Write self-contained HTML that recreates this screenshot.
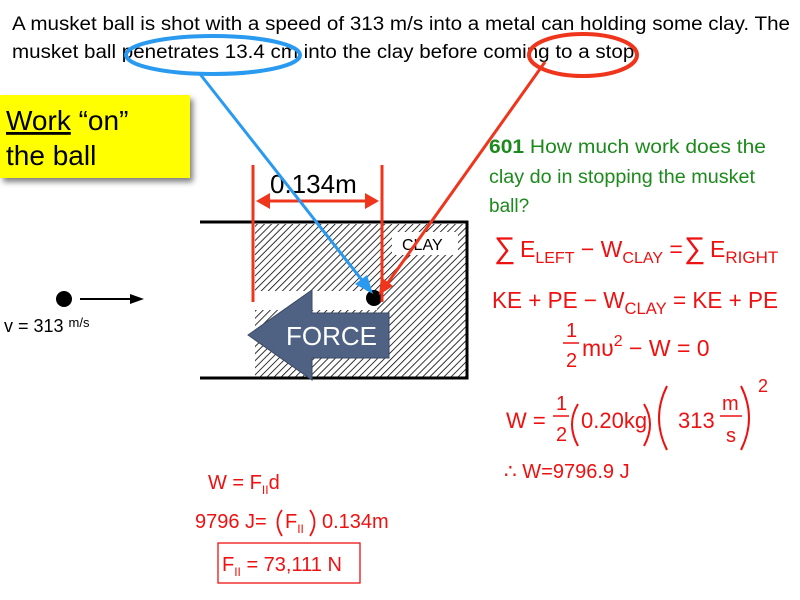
<!DOCTYPE html>
<html><head><meta charset="utf-8"><style>
html,body{margin:0;padding:0;background:#fff;width:800px;height:600px;overflow:hidden}
svg{display:block}
text{font-family:"Liberation Sans",Arial,sans-serif}
</style></head><body>
<svg width="800" height="600" viewBox="0 0 800 600" xmlns="http://www.w3.org/2000/svg">
<defs>
<pattern id="h" width="5" height="5" patternUnits="userSpaceOnUse" patternTransform="rotate(45)">
<rect width="5" height="5" fill="#fff"/><line x1="0" y1="0" x2="0" y2="5" stroke="#000" stroke-width="1.6"/>
</pattern>
<filter id="sh" x="-10%" y="-10%" width="130%" height="140%"><feDropShadow dx="3" dy="4" stdDeviation="3" flood-color="#000" flood-opacity="0.5"/></filter>
</defs>
<text x="12" y="30" font-size="19" fill="#000" textLength="778" lengthAdjust="spacingAndGlyphs">A musket ball is shot with a speed of 313 m/s into a metal can holding some clay.  The</text>
<text x="12" y="58" font-size="19" fill="#000" textLength="628" lengthAdjust="spacingAndGlyphs">musket ball penetrates 13.4 cm into the clay before coming to a stop.</text>
<ellipse cx="213" cy="55" rx="87" ry="19" fill="none" stroke="#2a9af0" stroke-width="4"/>
<ellipse cx="583" cy="55" rx="54" ry="21" fill="none" stroke="#f0351d" stroke-width="4"/>

<rect x="0" y="95" width="190" height="83" fill="#ffff00" filter="url(#sh)"/>
<text x="6" y="130" font-size="28" fill="#000"><tspan text-decoration="underline">Work</tspan> “on”</text>
<text x="6" y="165" font-size="28" fill="#000">the ball</text>

<rect x="255" y="224" width="212" height="153" fill="url(#h)"/>
<rect x="255" y="291" width="122" height="19" fill="#fff"/>
<rect x="392" y="232" width="66" height="23" fill="#fff"/>
<text x="402" y="250" font-size="16" fill="#000">CLAY</text>
<path d="M200 222 H467 V378 H200" fill="none" stroke="#000" stroke-width="3"/>
<polygon points="248,335 312,290 312,313 389,313 389,358 312,358 312,380" fill="#4f6283" stroke="#3a4a66" stroke-width="1"/>
<text x="286" y="345" font-size="26" fill="#fff">FORCE</text>
<circle cx="374" cy="298" r="8" fill="#000"/>

<line x1="253" y1="165" x2="253" y2="302" stroke="#f0351d" stroke-width="3"/>
<line x1="382" y1="165" x2="382" y2="302" stroke="#f0351d" stroke-width="3"/>
<line x1="262" y1="201" x2="373" y2="201" stroke="#f0351d" stroke-width="3"/>
<polygon points="256,201 270,193 270,209" fill="#f0351d"/>
<polygon points="379,201 365,193 365,209" fill="#f0351d"/>
<text x="270" y="193" font-size="26" fill="#000">0.134m</text>

<line x1="200" y1="74" x2="365" y2="284" stroke="#2a9af0" stroke-width="3"/>
<polygon points="373,294 355,284 367,275" fill="#2a9af0"/>
<line x1="545" y1="62" x2="387" y2="284" stroke="#f0351d" stroke-width="3"/>
<polygon points="379,295 381,277 393,286" fill="#f0351d"/>

<circle cx="64" cy="299" r="8" fill="#000"/>
<line x1="80" y1="299" x2="134" y2="299" stroke="#000" stroke-width="2"/>
<polygon points="144,299 130,294 130,304" fill="#000"/>
<text x="4" y="332" font-size="18" fill="#000">v = 313 <tspan font-size="13" dy="-5">m/s</tspan></text>

<text x="489" y="153" font-size="19" fill="#1c8a1c" textLength="277" lengthAdjust="spacingAndGlyphs"><tspan font-weight="bold">601</tspan>    How much work does the</text>
<text x="489" y="183" font-size="19" fill="#1c8a1c" textLength="266" lengthAdjust="spacingAndGlyphs">clay do in stopping the musket</text>
<text x="489" y="212" font-size="19" fill="#1c8a1c">ball?</text>

<g fill="#ee1111">
<text x="494" y="258" font-size="30">∑</text>
<text x="520" y="257" font-size="23">E<tspan font-size="16" dy="6">LEFT</tspan><tspan dy="-6"> − W</tspan><tspan font-size="16" dy="6">CLAY</tspan><tspan dy="-6"> =</tspan></text>
<text x="684" y="258" font-size="30">∑</text>
<text x="710" y="257" font-size="23">E<tspan font-size="17" dy="6">RIGHT</tspan></text>
<text x="492" y="308" font-size="23" textLength="286" lengthAdjust="spacingAndGlyphs">KE + PE − W<tspan font-size="17" dy="6">CLAY</tspan><tspan dy="-6"> = KE + PE</tspan></text>
<text x="566" y="337" font-size="20">1</text>
<line x1="563" y1="343" x2="579" y2="343" stroke="#ee1111" stroke-width="1.5"/>
<text x="566" y="367" font-size="20">2</text>
<text x="582" y="356" font-size="23">mυ<tspan font-size="16" dy="-10">2</tspan><tspan dy="10"> − W = 0</tspan></text>
<text x="506" y="428" font-size="22">W =</text>
<text x="556" y="410" font-size="20">1</text>
<line x1="553" y1="416" x2="569" y2="416" stroke="#ee1111" stroke-width="1.5"/>
<text x="556" y="441" font-size="20">2</text>
<path d="M578 404 Q566 424 578 446" fill="none" stroke="#ee1111" stroke-width="2"/>
<text x="581" y="428" font-size="22">0.20kg</text>
<path d="M644 404 Q656 424 644 446" fill="none" stroke="#ee1111" stroke-width="2"/>
<path d="M667 386 Q651 418 667 450" fill="none" stroke="#ee1111" stroke-width="2"/>
<text x="678" y="428" font-size="22">313</text>
<text x="722" y="410" font-size="20">m</text>
<line x1="720" y1="416" x2="742" y2="416" stroke="#ee1111" stroke-width="1.5"/>
<text x="726" y="442" font-size="20">s</text>
<path d="M741 386 Q757 418 741 450" fill="none" stroke="#ee1111" stroke-width="2"/>
<text x="758" y="392" font-size="18">2</text>
<text x="504" y="478" font-size="20">∴ W=9796.9 J</text>

<text x="208" y="489" font-size="20">W = F<tspan font-size="12" dy="5">II</tspan><tspan dy="-5">d</tspan></text>
<text x="195" y="528" font-size="20">9796 J=</text>
<path d="M282 510 Q273 522 282 536" fill="none" stroke="#ee1111" stroke-width="1.8"/>
<text x="285" y="528" font-size="20">F<tspan font-size="12" dy="5">II</tspan></text>
<path d="M310 510 Q319 522 310 536" fill="none" stroke="#ee1111" stroke-width="1.8"/>
<text x="322" y="528" font-size="20">0.134m</text>
<rect x="218" y="543" width="142" height="40" fill="none" stroke="#ee1111" stroke-width="1.3"/>
<text x="222" y="571" font-size="20">F<tspan font-size="12" dy="5">II</tspan><tspan dy="-5"> = 73,111 N</tspan></text>
</g>
</svg>
</body></html>
